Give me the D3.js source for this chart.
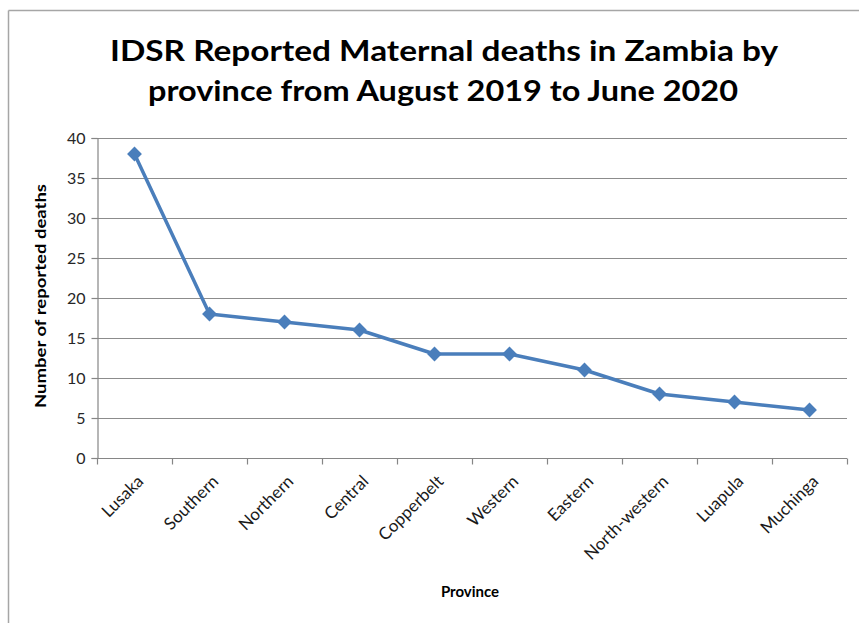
<!DOCTYPE html>
<html>
<head>
<meta charset="utf-8">
<script src="https://cdn.jsdelivr.net/npm/d3@7"></script>
<style>
  body { margin: 0; background: #fff; }
  svg { display: block; }
</style>
</head>
<body>
<script>
// Data
var provinces = ["Lusaka", "Southern", "Northern", "Central", "Copperbelt", "Western", "Eastern", "North-western", "Luapula", "Muchinga"];
var deaths = [38, 18, 17, 16, 13, 13, 11, 8, 7, 6];
var yTicks = [0, 5, 10, 15, 20, 25, 30, 35, 40];

var W = 859, H = 623;
// plot area edges (note: "top" is reserved on window, so use plot* names)
var plotLeft = 97, plotRight = 847, plotTop = 138, plotBottom = 458;
var lineColor = "#4a7ebb";
var font = "Lato, 'Open Sans', sans-serif";

var svg = d3.select("body").append("svg")
  .attr("width", W)
  .attr("height", H);

// outer frame (only top and left edges show)
svg.append("line").attr("x1", 8.5).attr("x2", W).attr("y1", 10.5).attr("y2", 10.5)
  .attr("stroke", "#a6a6a6").attr("stroke-width", 1.5);
svg.append("line").attr("x1", 8.5).attr("x2", 8.5).attr("y1", 10.5).attr("y2", H)
  .attr("stroke", "#a6a6a6").attr("stroke-width", 1.5);

// scales
var x = d3.scaleBand().domain(provinces).range([plotLeft, plotRight]);
var y = d3.scaleLinear().domain([0, 40]).range([plotBottom, plotTop]);

// gridlines
svg.append("g").selectAll("line")
  .data(yTicks.filter(function (d) { return d > 0; }))
  .enter().append("line")
  .attr("x1", plotLeft).attr("x2", plotRight)
  .attr("y1", function (d) { return Math.round(y(d)) + 0.5; })
  .attr("y2", function (d) { return Math.round(y(d)) + 0.5; })
  .attr("stroke", "#8c8c8c").attr("stroke-width", 1.2);

// y axis
var yAxis = svg.append("g")
  .attr("transform", "translate(" + (plotLeft + 0.5) + ",0)")
  .call(d3.axisLeft(y).tickValues(yTicks).tickSize(6).tickPadding(6));
yAxis.selectAll("line, path").attr("stroke", "#868686").attr("stroke-width", 1.2);
yAxis.selectAll("text").attr("font-family", font).attr("font-size", 16).attr("fill", "#262626");

// x axis with ticks between categories
var xAxis = svg.append("g")
  .attr("transform", "translate(0," + (Math.round(plotBottom) + 0.5) + ")");
xAxis.append("line").attr("x1", plotLeft).attr("x2", plotRight)
  .attr("stroke", "#868686").attr("stroke-width", 1.2);
var edges = provinces.map(function (p) { return x(p); }).concat([plotRight]);
xAxis.selectAll(".tk").data(edges).enter().append("line")
  .attr("x1", function (d) { return Math.round(d) + 0.5; })
  .attr("x2", function (d) { return Math.round(d) + 0.5; })
  .attr("y1", 0).attr("y2", 6)
  .attr("stroke", "#868686").attr("stroke-width", 1.2);
xAxis.selectAll(".lbl").data(provinces).enter().append("text")
  .attr("transform", function (d) {
    return "translate(" + (x(d) + x.bandwidth() / 2 + 10) + ",24) rotate(-45)";
  })
  .attr("text-anchor", "end")
  .attr("font-family", font).attr("font-size", 17).attr("fill", "#1a1a1a")
  .text(function (d) { return d; });

// line
var line = d3.line()
  .x(function (d, i) { return x(provinces[i]) + x.bandwidth() / 2; })
  .y(function (d) { return y(d); });
svg.append("path").datum(deaths)
  .attr("d", line)
  .attr("fill", "none")
  .attr("stroke", lineColor)
  .attr("stroke-width", 3.5)
  .attr("stroke-linejoin", "round");

// diamond markers
svg.selectAll(".pt").data(deaths).enter().append("path")
  .attr("d", d3.symbol().type(d3.symbolDiamond2).size(140))
  .attr("transform", function (d, i) {
    return "translate(" + (x(provinces[i]) + x.bandwidth() / 2) + "," + y(d) + ")";
  })
  .attr("fill", lineColor);

// title
var title = svg.append("text")
  .attr("text-anchor", "middle")
  .attr("font-family", font).attr("font-weight", "bold")
  .attr("font-size", 28).attr("fill", "#000");
title.append("tspan").attr("x", 444).attr("y", 61)
  .attr("textLength", 668).attr("lengthAdjust", "spacingAndGlyphs")
  .text("IDSR Reported Maternal deaths in Zambia by");
title.append("tspan").attr("x", 443).attr("y", 101)
  .attr("textLength", 590).attr("lengthAdjust", "spacingAndGlyphs")
  .text("province from August 2019 to June 2020");

// axis titles
svg.append("text")
  .attr("transform", "translate(46,296) rotate(-90)")
  .attr("text-anchor", "middle")
  .attr("font-family", font).attr("font-weight", "bold").attr("font-size", 15)
  .attr("textLength", 224).attr("lengthAdjust", "spacingAndGlyphs")
  .text("Number of reported  deaths");

svg.append("text")
  .attr("x", 470).attr("y", 597)
  .attr("text-anchor", "middle")
  .attr("font-family", font).attr("font-weight", "bold").attr("font-size", 15)
  .text("Province");
</script>
</body>
</html>
